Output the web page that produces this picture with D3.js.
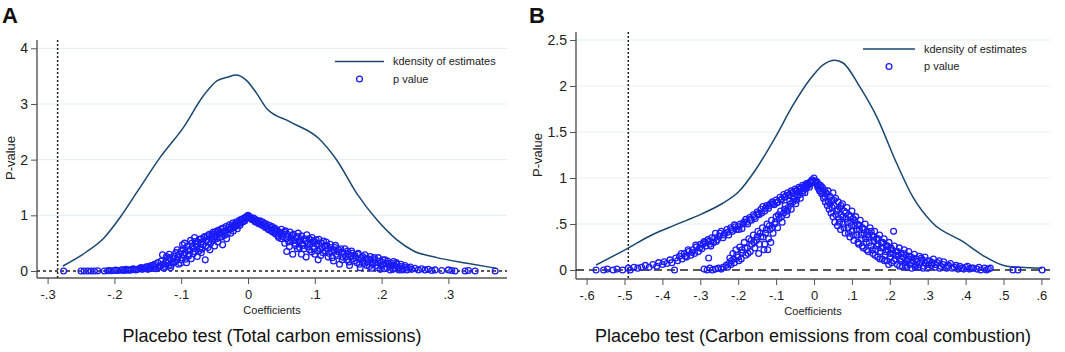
<!DOCTYPE html>
<html><head><meta charset="utf-8">
<script src="https://cdn.jsdelivr.net/npm/d3@7"></script>
<style>
html,body{margin:0;padding:0;background:#fff;}
svg{display:block;font-family:"Liberation Sans",Arial,sans-serif;}
</style></head>
<body><svg id="c" width="1065" height="352"></svg>
<script>
// ---------- DATA ----------
const xTicksA = [-0.3,-0.2,-0.1,0,0.1,0.2,0.3];
const yTicksA = [0,1,2,3,4];
const xTicksB = [-0.6,-0.5,-0.4,-0.3,-0.2,-0.1,0,0.1,0.2,0.3,0.4,0.5,0.6];
const yTicksB = [0,0.5,1,1.5,2,2.5];
const trueEstA = -0.285;
const trueEstB = -0.49;
const titleA = "Placebo test (Total carbon emissions)";
const titleB = "Placebo test (Carbon emissions from coal combustion)";
const legendLabels = ["kdensity of estimates","p value"];

// kernel density of placebo estimates (x, density)
const densA = [[-0.277,0.09],[-0.241,0.35],[-0.216,0.59],[-0.191,0.97],[-0.166,1.42],[-0.131,2.05],[-0.096,2.59],
 [-0.066,3.16],[-0.046,3.42],[-0.031,3.48],[-0.018,3.52],[-0.002,3.42],[0.013,3.19],[0.028,2.92],[0.063,2.68],
 [0.106,2.38],[0.133,1.99],[0.163,1.39],[0.193,0.92],[0.223,0.56],[0.248,0.36],[0.283,0.24],[0.328,0.14],[0.371,0.05]];
const densB = [[-0.575,0.054],[-0.494,0.23],[-0.428,0.38],[-0.366,0.49],[-0.296,0.61],[-0.243,0.72],[-0.199,0.85],
 [-0.154,1.09],[-0.101,1.45],[-0.057,1.78],[-0.011,2.07],[0.024,2.23],[0.055,2.28],[0.077,2.25],[0.121,1.99],
 [0.165,1.67],[0.218,1.16],[0.26,0.80],[0.313,0.51],[0.392,0.31],[0.445,0.16],[0.509,0.04],[0.545,0.03],[0.602,0.02]];

// placebo estimates and their p values (x, p)
const pvalA = [[-0.276,0],[-0.25,0],[-0.245,0],[-0.24,0],[-0.235,0],[-0.23,0],[-0.225,0.003],[-0.215,0],[-0.21,0.005],
 [-0.205,0.005],[-0.2,0.01],[-0.195,0.01],[-0.19,0.015],[-0.185,0.01],[-0.18,0.02],[-0.175,0.02],[-0.17,0.03],[-0.165,0.03],
 [-0.16,0.04],[-0.16,0.06],[-0.155,0.05],[-0.15,0.08],[-0.148,0.04],[-0.145,0.1],[-0.14,0.07],[-0.14,0.12],[-0.135,0.06],
 [-0.135,0.15],[-0.13,0.1],[-0.13,0.18],[-0.128,0.29],[-0.125,0.08],[-0.12,0.14],[-0.12,0.2],[-0.118,0.3],[-0.115,0.1],
 [-0.112,0.22],[-0.11,0.16],[-0.108,0.33],[-0.105,0.25],[-0.104,0.12],[-0.1,0.2],[-0.1,0.36],[-0.098,0.47],[-0.096,0.28],
 [-0.095,0.5],[-0.092,0.15],[-0.09,0.38],[-0.088,0.3],[-0.086,0.55],[-0.085,0.22],[-0.083,0.43],[-0.08,0.35],[-0.08,0.6],
 [-0.078,0.48],[-0.076,0.26],[-0.075,0.52],[-0.072,0.4],[-0.07,0.58],[-0.07,0.33],[-0.067,0.47],[-0.065,0.62],[-0.064,0.2],
 [-0.062,0.55],[-0.06,0.42],[-0.058,0.66],[-0.056,0.5],[-0.055,0.6],[-0.052,0.7],[-0.05,0.45],[-0.05,0.57],[-0.048,0.64],
 [-0.046,0.72],[-0.045,0.52],[-0.043,0.68],[-0.042,0.6],[-0.04,0.76],[-0.038,0.47],[-0.036,0.7],[-0.035,0.64],[-0.033,0.8],
 [-0.032,0.58],[-0.03,0.74],[-0.028,0.83],[-0.026,0.68],[-0.025,0.78],[-0.023,0.86],[-0.022,0.72],[-0.02,0.82],[-0.018,0.88],
 [-0.016,0.76],[-0.015,0.85],[-0.013,0.91],[-0.012,0.82],[-0.01,0.93],[-0.008,0.88],[-0.006,0.95],[-0.005,0.9],[-0.003,0.97],
 [-0.208,0.01],[-0.198,0.015],[-0.188,0.02],[-0.183,0.03],[-0.178,0.015],[-0.172,0.04],[-0.168,0.02],[-0.162,0.05],
 [-0.158,0.03],[-0.153,0.07],[-0.147,0.06],[-0.15,0.03],[-0.145,0.05],[-0.142,0.1],[-0.138,0.04],[-0.133,0.08],[-0.126,0.05],
 [-0.122,0.26],[-0.116,0.06],[-0.127,0.12],[-0.123,0.17],[-0.119,0.09],[-0.117,0.24],[-0.113,0.15],[-0.111,0.27],[-0.107,0.19],
 [-0.106,0.38],[-0.103,0.3],[-0.101,0.14],[-0.099,0.24],[-0.097,0.4],[-0.094,0.33],[-0.093,0.21],[-0.091,0.44],[-0.089,0.27],
 [-0.087,0.37],[-0.084,0.5],[-0.082,0.31],[-0.081,0.4],[-0.079,0.53],[-0.077,0.44],[-0.074,0.35],[-0.073,0.57],[-0.071,0.48],
 [-0.069,0.39],[-0.068,0.52],[-0.066,0.6],[-0.063,0.45],[-0.061,0.63],[-0.059,0.52],[-0.057,0.38],[-0.054,0.66],[-0.053,0.55],
 [-0.051,0.62],[-0.049,0.7],[-0.047,0.58],[-0.044,0.73],[-0.041,0.66],[-0.039,0.62],[-0.037,0.77],[-0.034,0.72],[-0.031,0.67],
 [-0.029,0.79],[-0.027,0.75],[-0.024,0.82],[-0.021,0.78],[-0.019,0.84],[-0.017,0.81],[-0.014,0.88],[-0.011,0.86],[-0.009,0.92],
 [-0.007,0.9],[-0.004,0.94],[-0.002,0.98],
 [0,1.0],[0.003,0.97],[0.005,0.93],[0.008,0.95],[0.01,0.9],[0.012,0.92],[0.015,0.87],[0.018,0.9],[0.02,0.84],[0.022,0.88],
 [0.025,0.8],[0.027,0.85],[0.03,0.76],[0.032,0.82],[0.035,0.72],[0.036,0.8],[0.04,0.68],[0.04,0.77],[0.043,0.74],[0.045,0.63],
 [0.047,0.7],[0.05,0.58],[0.05,0.75],[0.053,0.66],[0.055,0.5],[0.056,0.72],[0.058,0.35],[0.06,0.62],[0.062,0.44],[0.063,0.7],
 [0.065,0.56],[0.067,0.3],[0.068,0.66],[0.07,0.5],[0.072,0.6],[0.074,0.4],[0.075,0.68],[0.078,0.55],[0.08,0.3],[0.08,0.63],
 [0.082,0.46],[0.085,0.58],[0.087,0.25],[0.088,0.65],[0.09,0.5],[0.092,0.38],[0.094,0.56],[0.096,0.6],[0.098,0.44],[0.1,0.3],
 [0.1,0.53],[0.103,0.48],[0.105,0.2],[0.106,0.57],[0.108,0.4],[0.11,0.5],[0.112,0.33],[0.115,0.45],[0.117,0.52],[0.12,0.25],
 [0.12,0.4],[0.123,0.48],[0.125,0.36],[0.128,0.18],[0.13,0.42],[0.132,0.3],[0.135,0.38],[0.137,0.12],[0.14,0.34],[0.142,0.25],
 [0.145,0.4],[0.148,0.2],[0.15,0.3],[0.152,0.1],[0.155,0.36],[0.157,0.22],[0.16,0.28],[0.163,0.15],[0.165,0.32],[0.168,0.06],
 [0.17,0.24],[0.173,0.18],[0.175,0.29],[0.178,0.1],[0.18,0.22],[0.183,0.26],[0.185,0.05],[0.187,0.15],[0.19,0.2],[0.192,0.1],
 [0.195,0.24],[0.198,0.03],[0.2,0.16],[0.203,0.12],[0.205,0.2],[0.208,0.06],[0.21,0.14],[0.213,0.02],[0.215,0.1],[0.218,0.17],
 [0.22,0.06],[0.223,0.12],[0.226,0.02],[0.228,0.08],[0.232,0.04],[0.235,0.1],[0.24,0.05],[0.243,0.07],[0.245,0.03],[0.25,0.05],
 [0.255,0.02],[0.26,0.04],[0.265,0.02],[0.27,0.03],[0.275,0.01],[0.28,0.02],[0.29,0.01],[0.3,0.02],[0.305,0.01],[0.31,0],
 [0.325,0],[0.33,0.01],[0.34,0],[0.37,0],
 [0.002,0.98],[0.004,0.95],[0.007,0.92],[0.009,0.94],[0.011,0.88],[0.014,0.9],[0.016,0.85],[0.019,0.87],[0.021,0.82],[0.024,0.85],
 [0.026,0.78],[0.029,0.8],[0.031,0.74],[0.034,0.78],[0.037,0.7],[0.039,0.74],[0.042,0.66],[0.044,0.72],[0.046,0.6],[0.049,0.68],
 [0.052,0.62],[0.054,0.7],[0.057,0.58],[0.059,0.66],[0.061,0.52],[0.064,0.6],[0.066,0.64],[0.069,0.55],[0.071,0.46],[0.073,0.62],
 [0.076,0.52],[0.077,0.42],[0.079,0.58],[0.081,0.5],[0.084,0.4],[0.086,0.54],[0.089,0.44],[0.091,0.58],[0.093,0.48],[0.095,0.34],
 [0.097,0.52],[0.099,0.4],[0.102,0.56],[0.104,0.36],[0.107,0.46],[0.109,0.28],[0.111,0.42],[0.113,0.54],[0.116,0.36],[0.118,0.46],
 [0.121,0.32],[0.124,0.42],[0.126,0.24],[0.129,0.38],[0.131,0.46],[0.134,0.28],[0.136,0.34],[0.139,0.4],[0.141,0.2],[0.144,0.32],
 [0.146,0.26],[0.149,0.36],[0.151,0.16],[0.154,0.28],[0.156,0.32],[0.159,0.18],[0.161,0.24],[0.164,0.3],[0.167,0.12],[0.169,0.2],
 [0.172,0.26],[0.174,0.14],[0.177,0.22],[0.179,0.16],[0.182,0.08],[0.184,0.2],[0.186,0.12],[0.189,0.24],[0.191,0.15],[0.194,0.06],
 [0.197,0.18],[0.199,0.1],[0.202,0.2],[0.204,0.04],[0.207,0.13],[0.209,0.18],[0.212,0.08],[0.214,0.14],[0.217,0.03],[0.219,0.1],
 [0.222,0.15],[0.225,0.06],[0.229,0.12],[0.231,0.02],[0.236,0.06],[0.238,0.02]];

const pvalB = [[-0.575,0],[-0.555,0],[-0.545,0.01],[-0.53,0],[-0.52,0.01],[-0.505,0],[-0.49,0.02],[-0.485,0],[-0.475,0.03],
 [-0.465,0.02],[-0.455,0.03],[-0.445,0.05],[-0.435,0.03],[-0.425,0.06],[-0.415,0.04],[-0.41,0.08],[-0.4,0.06],[-0.395,0.09],
 [-0.388,0.07],[-0.38,0.11],[-0.375,0.08],[-0.368,0],[-0.365,0.13],[-0.36,0.1],[-0.355,0.15],[-0.348,0.12],[-0.342,0.18],
 [-0.336,0.14],[-0.33,0.2],[-0.325,0.16],[-0.32,0.22],[-0.315,0.18],[-0.31,0.25],[-0.305,0.2],[-0.3,0.28],[-0.296,0.23],
 [-0.29,0.31],[-0.285,0.26],[-0.28,0.33],[-0.278,0.13],[-0.275,0.28],[-0.27,0.35],[-0.265,0.3],[-0.26,0.4],[-0.255,0.33],
 [-0.25,0.37],[-0.245,0.42],[-0.24,0.35],[-0.235,0.4],[-0.23,0.44],[-0.225,0.38],[-0.22,0.46],[-0.215,0.42],[-0.21,0.49],
 [-0.205,0.44],[-0.2,0.47],[-0.195,0.5],[-0.19,0.45],[-0.185,0.52],[-0.18,0.55],[-0.175,0.5],[-0.17,0.57],[-0.165,0.54],
 [-0.16,0.6],[-0.155,0.56],[-0.15,0.63],[-0.145,0.6],[-0.14,0.66],[-0.135,0.69],[-0.13,0.64],[-0.125,0.7],[-0.12,0.67],
 [-0.115,0.72],[-0.11,0.74],[-0.105,0.71],[-0.1,0.76],[-0.095,0.74],[-0.09,0.79],[-0.085,0.77],[-0.08,0.82],[-0.075,0.8],
 [-0.07,0.84],[-0.065,0.82],[-0.06,0.86],[-0.055,0.84],[-0.05,0.88],[-0.045,0.86],[-0.04,0.9],[-0.035,0.89],[-0.03,0.92],
 [-0.025,0.91],[-0.02,0.94],[-0.015,0.93],[-0.01,0.96],[-0.005,0.98],[0,1.0],
 [-0.35,0.18],[-0.34,0.15],[-0.332,0.22],[-0.322,0.19],[-0.312,0.27],[-0.302,0.24],[-0.293,0.28],[-0.287,0.3],[-0.278,0.31],
 [-0.272,0.26],[-0.262,0.35],[-0.258,0.31],[-0.248,0.4],[-0.238,0.38],[-0.228,0.41],[-0.218,0.44],[-0.208,0.47],[-0.198,0.44],
 [-0.188,0.5],[-0.178,0.52],[-0.168,0.55],[-0.158,0.58],[-0.148,0.61],[-0.138,0.62],[-0.128,0.67],[-0.118,0.7],[-0.108,0.72],
 [-0.098,0.73],[-0.088,0.76],[-0.078,0.79],[-0.068,0.81],[-0.058,0.84],[-0.048,0.86],[-0.038,0.88],[-0.028,0.9],[-0.018,0.92],
 [-0.008,0.95],
 [-0.29,0.01],[-0.282,0],[-0.275,0.02],[-0.268,0],[-0.26,0.01],[-0.252,0.02],[-0.245,0.01],[-0.24,0.03],[-0.232,0.05],
 [-0.225,0.07],[-0.222,0.13],[-0.218,0.1],[-0.214,0.18],[-0.21,0.08],[-0.206,0.22],[-0.2,0.14],[-0.196,0.25],[-0.192,0.12],
 [-0.188,0.19],[-0.184,0.3],[-0.18,0.16],[-0.176,0.24],[-0.172,0.34],[-0.168,0.2],[-0.164,0.28],[-0.16,0.38],[-0.156,0.24],
 [-0.152,0.32],[-0.148,0.42],[-0.144,0.28],[-0.14,0.36],[-0.136,0.46],[-0.132,0.22],[-0.128,0.4],[-0.124,0.5],[-0.12,0.34],
 [-0.116,0.44],[-0.112,0.54],[-0.108,0.4],[-0.104,0.5],[-0.1,0.58],[-0.096,0.46],[-0.092,0.56],[-0.088,0.64],[-0.084,0.52],
 [-0.08,0.62],[-0.076,0.7],[-0.072,0.6],[-0.068,0.68],[-0.064,0.75],[-0.06,0.66],[-0.056,0.74],[-0.052,0.8],[-0.048,0.72],
 [-0.044,0.8],[-0.04,0.85],[-0.036,0.78],[-0.032,0.86],[-0.028,0.9],[-0.024,0.84],[-0.02,0.9],[-0.016,0.94],[-0.012,0.9],
 [-0.008,0.96],[-0.004,0.95],
 [-0.228,0.03],[-0.219,0.06],[-0.212,0.12],[-0.204,0.16],[-0.198,0.1],[-0.19,0.22],[-0.182,0.24],[-0.174,0.18],[-0.166,0.32],
 [-0.158,0.3],[-0.15,0.36],[-0.142,0.4],[-0.134,0.36],[-0.126,0.44],[-0.118,0.48],[-0.11,0.46],[-0.102,0.52],[-0.094,0.6],
 [-0.086,0.58],[-0.078,0.66],[-0.07,0.64],[-0.062,0.72],[-0.054,0.77],[-0.046,0.76],[-0.038,0.82],[-0.03,0.84],[-0.022,0.88],
 [-0.014,0.92],[-0.006,0.97],[-0.146,0.18],[-0.13,0.28],[-0.122,0.22],[-0.114,0.3],
 [0.003,0.97],[0.005,0.94],[0.008,0.96],[0.01,0.9],[0.012,0.93],[0.015,0.86],[0.017,0.92],[0.02,0.83],[0.022,0.9],[0.025,0.78],
 [0.027,0.87],[0.03,0.74],[0.032,0.84],[0.035,0.7],[0.037,0.86],[0.04,0.66],[0.042,0.8],[0.045,0.62],[0.047,0.76],[0.05,0.58],
 [0.05,0.84],[0.053,0.7],[0.055,0.52],[0.057,0.78],[0.06,0.64],[0.062,0.48],[0.064,0.74],[0.066,0.56],[0.068,0.68],[0.07,0.44],
 [0.072,0.6],[0.075,0.72],[0.077,0.5],[0.08,0.64],[0.082,0.4],[0.085,0.56],[0.087,0.68],[0.09,0.46],[0.092,0.6],[0.095,0.36],
 [0.097,0.52],[0.1,0.64],[0.1,0.42],[0.103,0.56],[0.105,0.32],[0.108,0.48],[0.11,0.58],[0.113,0.38],[0.115,0.5],[0.118,0.28],
 [0.12,0.44],[0.122,0.54],[0.125,0.34],[0.128,0.46],[0.13,0.24],[0.132,0.4],[0.135,0.5],[0.138,0.3],[0.14,0.42],[0.143,0.2],
 [0.145,0.36],[0.148,0.46],[0.15,0.26],[0.153,0.38],[0.155,0.18],[0.158,0.32],[0.16,0.42],[0.163,0.22],[0.165,0.34],[0.168,0.14],
 [0.17,0.28],[0.173,0.38],[0.175,0.2],[0.178,0.3],[0.18,0.12],[0.183,0.24],[0.185,0.34],[0.188,0.16],[0.19,0.27],[0.193,0.1],
 [0.195,0.22],[0.198,0.3],[0.2,0.14],[0.203,0.24],[0.205,0.08],[0.208,0.18],[0.21,0.42],[0.212,0.26],[0.215,0.12],[0.218,0.2],
 [0.22,0.06],[0.223,0.16],[0.225,0.24],[0.228,0.1],[0.23,0.18],[0.233,0.04],[0.235,0.14],[0.238,0.22],[0.24,0.08],[0.243,0.16],
 [0.245,0.03],[0.248,0.12],[0.25,0.2],[0.253,0.06],[0.255,0.14],[0.258,0.02],[0.26,0.1],[0.265,0.17],[0.268,0.05],[0.27,0.12],
 [0.275,0.03],[0.278,0.15],[0.28,0.08],[0.285,0.11],[0.29,0.04],[0.293,0.14],[0.295,0.07],[0.3,0.02],[0.305,0.1],[0.31,0.05],
 [0.315,0.12],[0.32,0.03],[0.325,0.08],[0.33,0.1],[0.335,0.04],[0.34,0.06],[0.35,0.02],[0.355,0.05],[0.36,0.07],[0.37,0.03],
 [0.38,0.01],[0.385,0.04],[0.39,0.02],[0.4,0.03],[0.41,0.01],[0.42,0.02],[0.43,0.01],[0.44,0],[0.45,0.02],[0.46,0.01],
 [0.525,0],[0.538,0],[0.602,0],
 [0.004,0.96],[0.009,0.92],[0.013,0.88],[0.018,0.9],[0.023,0.84],[0.028,0.8],[0.033,0.82],[0.038,0.74],[0.043,0.72],[0.048,0.68],
 [0.052,0.76],[0.058,0.6],[0.063,0.66],[0.067,0.52],[0.071,0.7],[0.076,0.58],[0.079,0.46],[0.083,0.62],[0.088,0.52],[0.091,0.4],
 [0.096,0.58],[0.099,0.48],[0.104,0.38],[0.107,0.54],[0.112,0.44],[0.116,0.3],[0.119,0.48],[0.124,0.38],[0.127,0.26],[0.131,0.44],
 [0.136,0.34],[0.139,0.22],[0.142,0.38],[0.146,0.3],[0.151,0.42],[0.154,0.22],[0.157,0.36],[0.161,0.16],[0.166,0.26],[0.169,0.34],
 [0.174,0.12],[0.177,0.24],[0.181,0.3],[0.186,0.1],[0.189,0.2],[0.194,0.26],[0.197,0.06],[0.201,0.18],[0.206,0.22],[0.211,0.1],
 [0.216,0.16],[0.221,0.2],[0.226,0.04],[0.231,0.12],[0.236,0.18],[0.241,0.05],[0.246,0.1],[0.251,0.15],[0.257,0.08],[0.262,0.13],
 [0.267,0.03],[0.272,0.09],[0.277,0.06],[0.283,0.13],[0.288,0.02],[0.297,0.1],[0.302,0.06],[0.312,0.08],[0.322,0.06],[0.332,0.02],
 [0.342,0.09],[0.352,0.04],[0.365,0.02],[0.375,0.05],[0.395,0.01],[0.405,0.04],[0.415,0.02],[0.435,0.03],[0.455,0],[0.465,0.02]];

// ---------- DRAW ----------
const svg = d3.select("#c");
const LINE = "#1a476f", PT = "#1a1aff", GRID = "#e6eff1", AX = "#555";

function fmtDec(v){
  if (Math.abs(v) < 1e-9) return "0";
  let s = String(+v.toFixed(2));
  return s.replace(/^(-?)0\./, "$1.");
}

function panel(o){
  const x = d3.scaleLinear().domain(o.xDom).range(o.xRng);
  const y = d3.scaleLinear().domain(o.yDom).range(o.yRng);
  const g = svg.append("g");
  g.selectAll("line.grid").data(o.yTicks.filter(t => t > 0)).join("line")
    .attr("x1", o.left).attr("x2", o.right).attr("y1", d => y(d)).attr("y2", d => y(d))
    .attr("stroke", GRID).attr("stroke-width", 1.2);
  const ya = g.append("g").attr("transform", `translate(${o.left},0)`)
    .call(d3.axisLeft(y).tickValues(o.yTicks).tickSize(6).tickPadding(3).tickFormat(fmtDec));
  ya.select(".domain").remove();
  ya.append("line").attr("x1",0).attr("x2",0).attr("y1",o.top).attr("y2",o.bottom).attr("stroke",AX).attr("stroke-width",1.4);
  ya.selectAll(".tick line").attr("stroke", AX);
  ya.selectAll(".tick text").attr("font-size", 14).attr("fill","#222").attr("font-family","Liberation Sans, Arial, sans-serif");
  const xa = g.append("g").attr("transform", `translate(0,${o.bottom})`)
    .call(d3.axisBottom(x).tickValues(o.xTicks).tickSize(6).tickPadding(6).tickFormat(fmtDec));
  xa.select(".domain").remove();
  xa.append("line").attr("x1",o.left).attr("x2",o.right).attr("y1",0).attr("y2",0).attr("stroke",AX).attr("stroke-width",1.4);
  xa.selectAll(".tick line").attr("stroke", AX);
  xa.selectAll(".tick text").attr("font-size", 13).attr("fill","#222").attr("font-family","Liberation Sans, Arial, sans-serif");
  g.append("line").attr("x1", x(o.trueEst)).attr("x2", x(o.trueEst)).attr("y1", o.top).attr("y2", o.bottom)
    .attr("stroke", "#222").attr("stroke-width", 1.5).attr("stroke-dasharray", "2,2");
  g.append("line").attr("x1", o.left).attr("x2", o.right).attr("y1", y(0)).attr("y2", y(0))
    .attr("stroke", "#222").attr("stroke-width", 1.5).attr("stroke-dasharray", o.hDash);
  g.append("path").datum(o.dens)
    .attr("d", d3.line().x(d => x(d[0])).y(d => y(d[1])).curve(d3.curveMonotoneX))
    .attr("fill","none").attr("stroke", LINE).attr("stroke-width", 1.5);
  g.selectAll("circle.p").data(o.pval).join("circle")
    .attr("cx", d => x(d[0])).attr("cy", d => y(d[1])).attr("r", 2.9)
    .attr("fill","none").attr("stroke", PT).attr("stroke-width", 1.3);
  g.append("line").attr("x1", o.leg[0]).attr("x2", o.leg[0] + o.leg[2]).attr("y1", o.leg[1]).attr("y2", o.leg[1])
    .attr("stroke", LINE).attr("stroke-width", 1.5);
  g.append("circle").attr("cx", o.leg[0] + o.leg[2]/2).attr("cy", o.leg[1] + 17.5).attr("r", 2.9)
    .attr("fill","none").attr("stroke", PT).attr("stroke-width", 1.3);
  g.selectAll("text.leg").data(legendLabels).join("text")
    .attr("x", o.leg[0] + o.leg[2] + 9).attr("y", (d,i) => o.leg[1] + i*17.5).attr("dy","0.35em")
    .attr("font-size", 11).attr("fill","#222").text(d => d);
  g.append("text").attr("x", (o.left + o.right)/2).attr("y", o.bottom + 32).attr("dy","0.35em")
    .attr("text-anchor","middle").attr("font-size", 11).attr("fill","#222").text("Coefficients");
  g.append("text").attr("transform", `translate(${o.yLabX},${o.yLabY}) rotate(-90)`).attr("dy","0.35em")
    .attr("text-anchor","middle").attr("font-size", 13).attr("fill","#222").text("P-value");
  g.append("text").attr("x", (o.left + o.right)/2).attr("y", 336).attr("dy","0.35em")
    .attr("text-anchor","middle").attr("font-size", 18).attr("fill","#111").text(o.title);
  g.append("text").attr("x", o.labX).attr("y", 23).attr("font-size", 22).attr("font-weight","bold")
    .attr("fill","#111").text(o.label);
}

panel({xDom:[-0.3,0.3], xRng:[47.6,448.4], yDom:[0,4], yRng:[271,48.3], left:37, right:507, top:40, bottom:278,
  xTicks:xTicksA, yTicks:yTicksA, trueEst:trueEstA, hDash:"3,3", dens:densA, pval:pvalA,
  leg:[335,61.5,49], yLabX:10, yLabY:158, title:titleA, label:"A", labX:2});
panel({xDom:[-0.6,0.6], xRng:[586.6,1041.4], yDom:[0,2.5], yRng:[270,40], left:576, right:1050, top:32, bottom:279,
  xTicks:xTicksB, yTicks:yTicksB, trueEst:trueEstB, hDash:"8,5", dens:densB, pval:pvalB,
  leg:[863,49,52], yLabX:537, yLabY:155, title:titleB, label:"B", labX:529});
</script></body></html>
